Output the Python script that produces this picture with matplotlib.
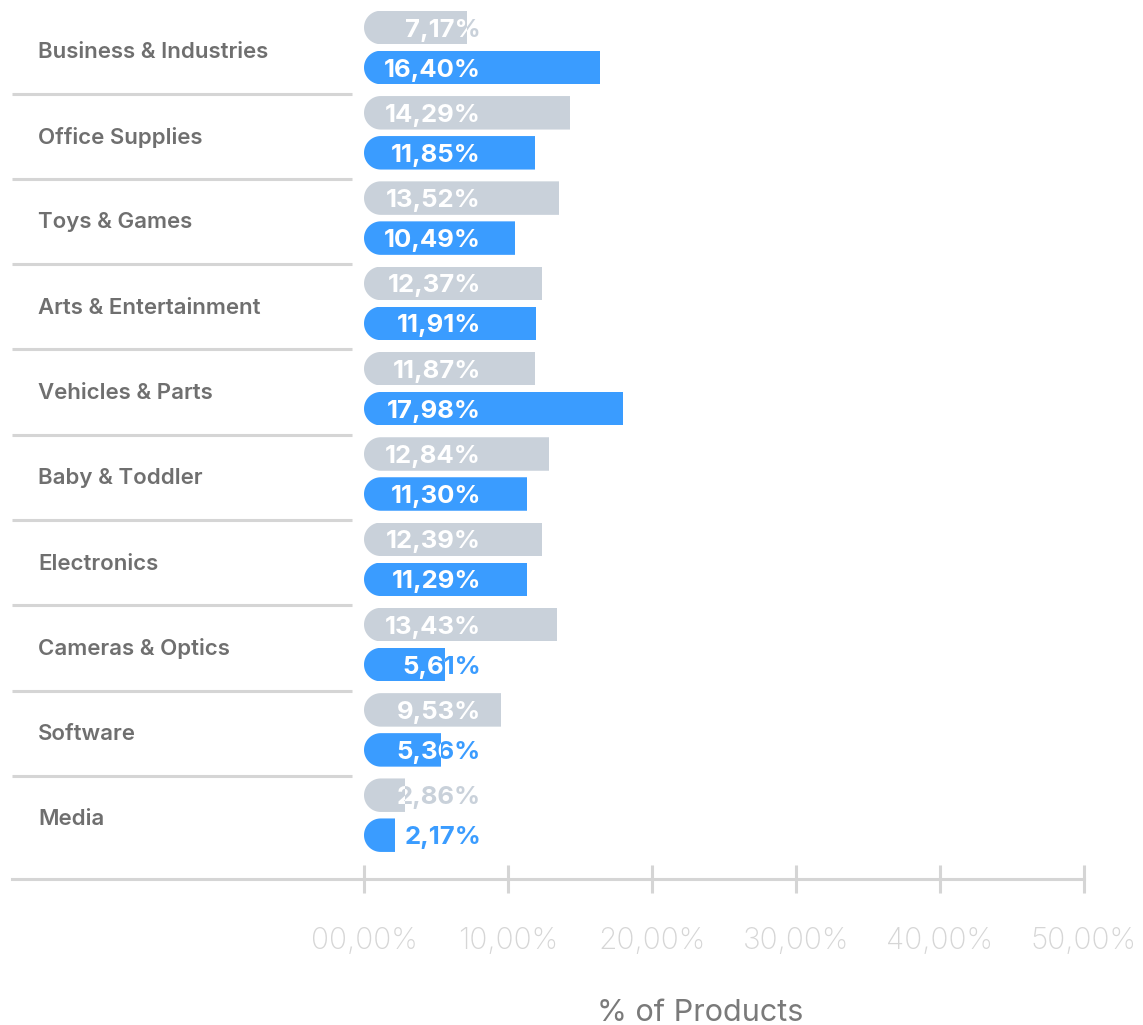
import numpy as np
import matplotlib
matplotlib.use('Agg')
import matplotlib.pyplot as plt
import matplotlib.transforms as mtransforms
from matplotlib.path import Path
from matplotlib.patches import PathPatch

categories = ['Business & Industries', 'Office Supplies', 'Toys & Games',
              'Arts & Entertainment', 'Vehicles & Parts', 'Baby & Toddler',
              'Electronics', 'Cameras & Optics', 'Software', 'Media']
grey_values = [7.17, 14.29, 13.52, 12.37, 11.87, 12.84, 12.39, 13.43, 9.53, 2.86]
blue_values = [16.40, 11.85, 10.49, 11.91, 17.98, 11.30, 11.29, 5.61, 5.36, 2.17]
tick_values = [0, 10, 20, 30, 40, 50]
x_title = '% of Products'

GREY = '#c9d1da'
BLUE = '#3a9cff'
LINE = '#d5d5d5'
LABEL = '#6f6f6f'
FONT = 'Inter'

W, H, DPI = 1143, 1025, 100
fig = plt.figure(figsize=(W / DPI, H / DPI), dpi=DPI)

# axes spans from the separator start to the last tick, zero sits at x=364px
x_left, x_zero, x_right = 12, 364, 1084
px_per_unit = (x_right - x_zero) / 50.0
xmin = -(x_zero - x_left) / px_per_unit
y_top_center, row_px, axis_y = 47.5, 85.3, 879
ymax = (axis_y - y_top_center) / row_px
ymin = -y_top_center / row_px
ax = fig.add_axes([x_left / W, (H - axis_y) / H, (x_right - x_left) / W, axis_y / H])
ax.set_xlim(xmin, 50)
ax.set_ylim(ymax, ymin)
ax.set_facecolor('none')

for s in ['top', 'right', 'left']:
    ax.spines[s].set_visible(False)
ax.spines['bottom'].set_color(LINE)
ax.spines['bottom'].set_linewidth(2.2)
ax.set_yticks([])
ax.set_xticks(tick_values)
ax.set_xticklabels([f'{v:05.2f}%'.replace('.', ',') for v in tick_values],
                   family=FONT, fontweight='light', fontsize=21.5, color='#d6d6d6')
ax.tick_params(axis='x', direction='inout', length=19.5, width=2.2,
               color=LINE, pad=25)

n = len(categories)
y = np.arange(n)
bar_h = 33.5 / row_px
offset = 20 / row_px
rx = (bar_h / 2) * row_px / px_per_unit   # cap radius in x data units
ry = bar_h / 2
label_x = (481 - x_zero) / px_per_unit


def rounded_clip(yc):
    # shape with a round left cap and a far right edge, used to clip a bar
    t = np.linspace(np.pi / 2, 3 * np.pi / 2, 40)
    cap = np.column_stack([rx + rx * np.cos(t), yc + ry * np.sin(t)])
    pts = np.vstack([[60, yc + ry], cap, [60, yc - ry], [60, yc + ry]])
    return PathPatch(Path(pts, closed=True), transform=ax.transData)


def draw_series(values, ypos, color):
    bars = ax.barh(ypos, values, height=bar_h, color=color, zorder=2, linewidth=0)
    for rect, v, yc in zip(bars, values, ypos):
        rect.set_clip_path(rounded_clip(yc))
        txt = f'{v:.2f}%'.replace('.', ',')
        ax.text(label_x, yc, txt, ha='right', va='center_baseline', color=color,
                family=FONT, fontweight='bold', fontsize=18.5, zorder=1)
        white = ax.text(label_x, yc, txt, ha='right', va='center_baseline',
                        color='white', family=FONT, fontweight='bold',
                        fontsize=18.5, zorder=3, clip_on=True)
        box = mtransforms.Bbox([[0, yc - ry], [v, yc + ry]])
        white.set_clip_box(mtransforms.TransformedBbox(box, ax.transData))


draw_series(grey_values, y - offset, GREY)
draw_series(blue_values, y + offset, BLUE)

# category names and separators in the left column
sep_end = (352 - x_zero) / px_per_unit
ax.hlines(y[:-1] + 0.54, xmin, sep_end, color=LINE, linewidth=2.2, clip_on=False)
for yi, name in zip(y, categories):
    ax.text((38 - x_zero) / px_per_unit, yi + 0.05, name, ha='left', va='center',
            family=FONT, fontweight='semibold', fontsize=16, color=LABEL)

fig.text(700 / W, (H - 1013) / H, x_title, ha='center', va='center',
         family=FONT, fontsize=22, color='#7a7a7a')

fig.savefig('out.png', dpi=DPI)
